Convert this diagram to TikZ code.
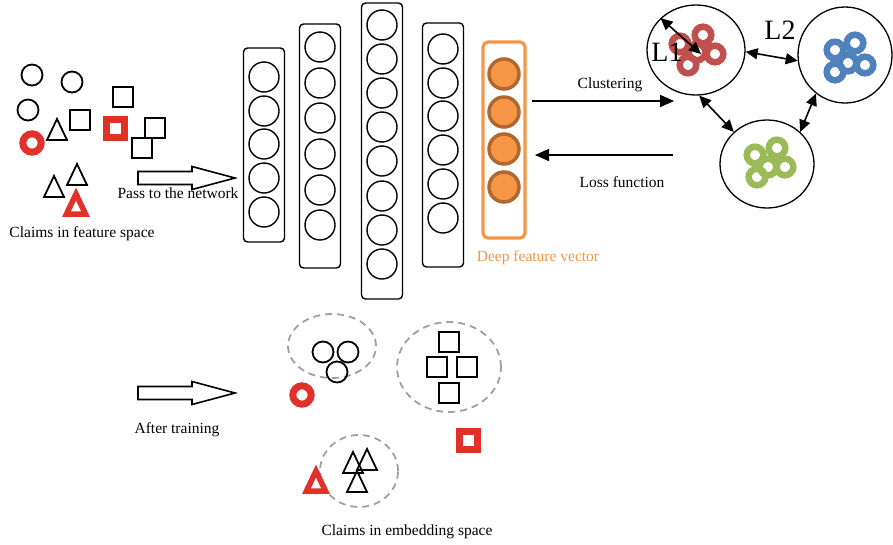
\documentclass[tikz,border=0pt]{standalone}
\usepackage{fontspec}
\setmainfont{Liberation Serif}
\usetikzlibrary{arrows.meta,shapes.geometric}

\definecolor{claimred}{HTML}{E2302A}
\definecolor{featorange}{HTML}{F79646}
\definecolor{featbrown}{HTML}{B0682E}
\definecolor{clred}{HTML}{C0504D}
\definecolor{clblue}{HTML}{4F81BD}
\definecolor{clgreen}{HTML}{9BBB59}
\definecolor{dashgray}{HTML}{A0A0A0}

\newcommand\labelstyle{\fontsize{15.5}{18}\selectfont}
\newcommand\distlabelstyle{\fontsize{28}{30}\selectfont}
\newcommand\ringradius{8.3}

\tikzset{
  layerbox/.style={draw, line width=1.4, rounded corners=4, minimum width=41, inner sep=0},
  unit/.style={draw, circle, line width=1.4, minimum size=30, inner sep=0},
  featbox/.style={draw=featorange, line width=3.2, rounded corners=5, minimum width=42, inner sep=0},
  featunit/.style={draw=featbrown, fill=featorange, circle, line width=3.5, minimum size=30, inner sep=0},
  cluster/.style={draw, ellipse, line width=1.3, inner sep=0},
  ring/.style={line width=6.5},
  group/.style={draw=dashgray, ellipse, dash pattern=on 7 off 5, line width=1.8, inner sep=0},
  claimmark/.style={line width=1.8},
  redmark/.style={draw=claimred, line width=7, line join=miter},
  flow/.style={line width=1.6, -{Triangle[length=14,width=12]}},
  dist/.style={line width=1.6, {Triangle[length=12,width=11]}-{Triangle[length=12,width=11]}},
  txt/.style={inner sep=0, font=\labelstyle}
}

% one layer: name, x, box top, box bottom, unit positions
\newcommand\netlayer[5]{
  \node[layerbox, minimum height=#4-#3] (#1) at (#2, {(#3+#4)/2}) {};
  \foreach \yy [count=\i] in {#5} \node[unit] (#1-\i) at (#2, \yy) {};
}
\newcommand\sqmark[3][claimmark]{\draw[#1] (#2-10, #3-10) rectangle ++(20, 20);}
\newcommand\cirmark[3][claimmark]{\draw[#1] (#2, #3) circle (10.5);}
\newcommand\trimark[3][claimmark]{\draw[#1] (#2-10, #3+10) -- (#2, #3-11) -- (#2+10, #3+10) -- cycle;}
% thick red outliers
\newcommand\redsq[2]{\draw[redmark] (#1-9, #2-9) rectangle ++(18, 18);}
\newcommand\redcir[2]{\draw[redmark] (#1, #2) circle (9.2);}
\newcommand\redtri[2]{\draw[redmark, line width=5.5] (#1-9.5, #2+10) -- (#1, #2-10) -- (#1+9.5, #2+10) -- cycle;}
\newcommand\hollowarrow[2]{
  \draw[line width=1.6] (#1, #2-6.5) -- ++(54, 0) -- ++(0, -5) -- ++(43, 11.5)
    -- ++(-43, 11.5) -- ++(0, -5) -- ++(-54, 0) -- cycle;
}

\begin{document}
\begin{tikzpicture}[x=1pt, y=-1pt]
  \useasboundingbox (0, 0) rectangle (893, 544);

  % claims in feature space
  \cirmark{32}{75} \cirmark{72}{82} \cirmark{28}{110}
  \trimark{57}{130} \trimark{54}{187} \trimark{77}{175}
  \sqmark{123}{97} \sqmark{80}{120} \sqmark{155}{128} \sqmark{142}{148}
  \redsq{115}{128} \redcir{32}{143} \redtri{76}{204}
  \node[txt] (featspace) at (82, 234) {Claims in feature space};

  \hollowarrow{138}{178}
  \node[txt] (passlabel) at (178, 193) {Pass to the network};

  % network
  \netlayer{L1}{264}{48}{242}{77,111,144,178,212}
  \netlayer{L2}{320}{24}{268}{47,83,118,154,190,225}
  \netlayer{L3}{382}{3}{299}{25,59,93,127,161,196,230,264}
  \netlayer{L4}{443}{23}{267}{49,83,116,150,184,218}
  \node[featbox, minimum height=196] (L5) at (504, 140) {};
  \foreach \yy [count=\i] in {74,112,149,187} \node[featunit] (L5-\i) at (504, \yy) {};
  \node[txt, text=featorange] (featlabel) at (538, 258) {Deep feature vector};

  % clustering and loss
  \coordinate (clusterout) at (532, 101);
  \coordinate (clusterin) at (674, 101);
  \coordinate (lossout) at (673, 155);
  \coordinate (lossin) at (535, 155);
  \draw[flow] (clusterout) -- (clusterin);
  \draw[flow] (lossout) -- (lossin);
  \node[txt] (clusterlabel) at (610, 85) {Clustering};
  \node[txt] (losslabel) at (622, 182) {Loss function};

  \node[cluster, minimum width=98, minimum height=90] (c1) at (696, 50) {};
  \node[cluster, minimum width=94, minimum height=96] (c2) at (845, 55) {};
  \node[cluster, minimum width=94, minimum height=88] (c3) at (767, 164) {};
  \foreach \p in {(697,52),(680,44),(703,35),(715,54),(688,65)}
    \draw[ring, clred] \p circle (\ringradius);
  \foreach \p in {(848,63),(835,50),(855,43),(865,65),(835,72)}
    \draw[ring, clblue] \p circle (\ringradius);
  \foreach \p in {(768,167),(755,155),(777,148),(785,167),(757,177)}
    \draw[ring, clgreen] \p circle (\ringradius);

  \coordinate (l1end) at (701, 54);
  \draw[dist] (c1.138) -- (l1end);
  \draw[dist] (c1.-2) -- (c2.187);
  \draw[dist] (c1.-86) -- (c3.136);
  \draw[dist] (c2.-127) -- (c3.44);
  \node[inner sep=0, font=\distlabelstyle] (l1label) at (667, 52) {L1};
  \node[inner sep=0, font=\distlabelstyle] (l2label) at (780, 30) {L2};

  % claims in embedding space
  \hollowarrow{138}{393}
  \node[txt] (trainlabel) at (177, 430) {After training};

  \node[group, minimum width=88, minimum height=64] (g1) at (332, 346) {};
  \node[group, minimum width=104, minimum height=90] (g2) at (449, 367) {};
  \node[group, minimum width=78, minimum height=72] (g3) at (359, 471) {};
  \cirmark{323}{352} \cirmark{348}{352} \cirmark{337}{372}
  \sqmark{449}{342} \sqmark{437}{367} \sqmark{467}{367} \sqmark{449}{393}
  \trimark{353}{463} \trimark{367}{460} \trimark{357}{482}
  \redcir{302}{395} \redsq{468}{440} \redtri{316}{481}
  \node[txt] (embedspace) at (407, 532) {Claims in embedding space};
\end{tikzpicture}
\end{document}
